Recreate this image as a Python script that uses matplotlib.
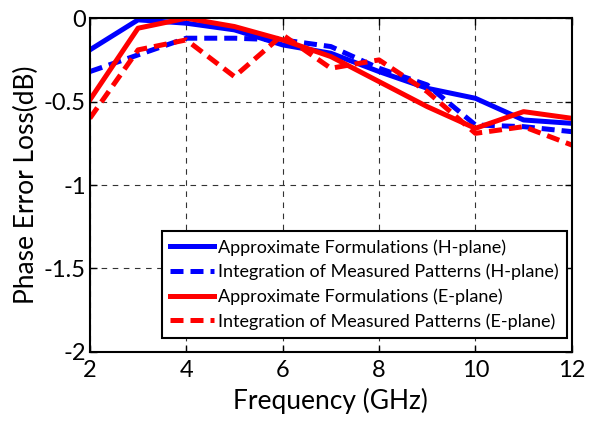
import matplotlib
matplotlib.use("Agg")
import matplotlib.pyplot as plt

freq = [2, 3, 4, 5, 6, 7, 8, 9, 10, 11, 12]
h_approx = [-0.19, -0.01, -0.03, -0.07, -0.16, -0.21, -0.32, -0.42, -0.48, -0.61, -0.63]
h_meas = [-0.32, -0.22, -0.12, -0.12, -0.13, -0.17, -0.30, -0.40, -0.64, -0.65, -0.68]
e_approx = [-0.49, -0.06, 0.0, -0.05, -0.13, -0.23, -0.38, -0.53, -0.66, -0.56, -0.60]
e_meas = [-0.60, -0.19, -0.13, -0.35, -0.10, -0.30, -0.25, -0.44, -0.69, -0.65, -0.76]
labels = ["Approximate Formulations (H-plane)",
          "Integration of Measured Patterns (H-plane)",
          "Approximate Formulations (E-plane)",
          "Integration of Measured Patterns (E-plane)"]

plt.rcParams['font.family'] = ['Lato', 'DejaVu Sans']
fig = plt.figure(figsize=(5.95, 4.23), dpi=100)
ax = fig.add_axes([0.151, 0.168, 0.810, 0.789])
lw = 3.6
dash = (0, (2.6, 1.4))
ax.plot(freq, h_approx, color='#0000ff', lw=lw, ls='-', label=labels[0])
ax.plot(freq, h_meas, color='#0000ff', lw=lw, ls=dash, label=labels[1])
ax.plot(freq, e_approx, color='#ff0000', lw=lw, ls='-', label=labels[2])
ax.plot(freq, e_meas, color='#ff0000', lw=lw, ls=dash, label=labels[3])
ax.set_xlim(2, 12)
ax.set_ylim(-2, 0)
ax.set_xticks([2, 4, 6, 8, 10, 12])
ax.set_yticks([-2, -1.5, -1, -0.5, 0])
ax.set_yticklabels(['-2', '-1.5', '-1', '-0.5', '0'])
ax.grid(True, color='#333333', ls=(0, (5, 5)), lw=0.8)
ax.tick_params(direction='in', labelsize=17, length=5, width=1,
               top=True, right=True)
ax.tick_params(axis='x', pad=6)
ax.tick_params(axis='y', pad=3)
for s in ax.spines.values():
    s.set_linewidth(1.5)
ax.set_xlabel('Frequency (GHz)', fontsize=19, labelpad=5)
ax.set_ylabel('Phase Error Loss(dB)', fontsize=19, labelpad=3)
leg = ax.legend(loc='lower right', bbox_to_anchor=(0.99, 0.042), borderaxespad=0,
                fontsize=13, frameon=True, fancybox=False,
                edgecolor='black', framealpha=1, handlelength=2.4,
                labelspacing=0.45, handletextpad=0.25, borderpad=0.45)
leg.get_frame().set_linewidth(1.5)
fig.savefig('out.png', dpi=100)
